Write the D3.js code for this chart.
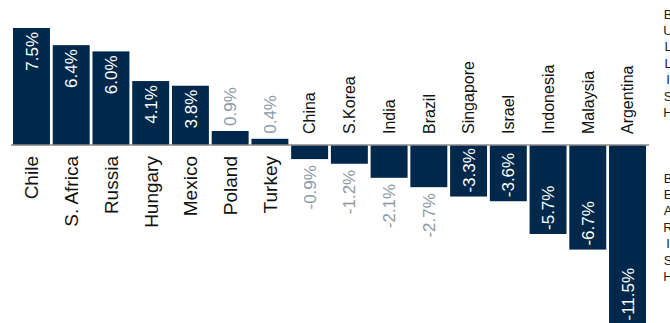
<!DOCTYPE html>
<html>
<head>
<meta charset="utf-8">
<script src="https://cdn.jsdelivr.net/npm/d3@7"></script>
<style>
  html, body { margin: 0; padding: 0; background: #fff; }
  svg { display: block; }
  text { font-family: "Liberation Sans", Arial, sans-serif; }
</style>
</head>
<body>
<svg id="chart" width="670" height="323"></svg>
<script>
const countries = ["Chile", "S. Africa", "Russia", "Hungary", "Mexico", "Poland", "Turkey", "China", "S.Korea", "India", "Brazil", "Singapore", "Israel", "Indonesia", "Malaysia", "Argentina"];
const values = [7.5, 6.4, 6.0, 4.1, 3.8, 0.9, 0.4, -0.9, -1.2, -2.1, -2.7, -3.3, -3.6, -5.7, -6.7, -11.5];
const sideLabels = ["BULLISH", "BEARISH"];

const data = countries.map((c, i) => ({ country: c, value: values[i] }));

const svg = d3.select("#chart");

const x = d3.scaleBand().domain(countries).range([13, 646]).paddingInner(0.07).paddingOuter(0);
const y = d3.scaleLinear().domain([-11.5, 7.5]).range([324.5, 28]);

const navy = "#00284b";
const grey = "#8c99a6";
const insideThreshold = 3;
const fmt = v => d3.format(".1f")(v).replace("\u2212", "-") + "%";

svg.append("g").selectAll("rect").data(data).join("rect")
  .attr("x", d => x(d.country))
  .attr("width", x.bandwidth())
  .attr("y", d => y(Math.max(0, d.value)))
  .attr("height", d => Math.abs(y(d.value) - y(0)))
  .attr("fill", navy);

const y0 = y(0);
svg.append("line")
  .attr("x1", 11).attr("x2", 649)
  .attr("y1", y0).attr("y2", y0)
  .attr("stroke", "#8a8a8a").attr("stroke-width", 1.5);

svg.append("g").selectAll("text").data(data).join("text")
  .attr("transform", d => {
    const cx = x(d.country) + x.bandwidth() / 2;
    const ty = d.value >= 0 ? y0 + 11 : y0 - 11;
    return `translate(${cx},${ty}) rotate(-90)`;
  })
  .attr("text-anchor", d => d.value >= 0 ? "end" : "start")
  .attr("dy", "0.36em")
  .attr("font-size", d => d.value >= 0 ? 19 : 16)
  .attr("fill", "#111")
  .text(d => d.country);

svg.append("g").selectAll("text").data(data).join("text")
  .attr("transform", d => {
    const cx = x(d.country) + x.bandwidth() / 2;
    const inside = Math.abs(d.value) >= insideThreshold;
    let ty;
    if (d.value >= 0) ty = inside ? y(d.value) + 4 : y(d.value) - 5;
    else ty = inside ? y(d.value) - 4 : y(d.value) + 6;
    return `translate(${cx},${ty}) rotate(-90)`;
  })
  .attr("text-anchor", d => {
    const inside = Math.abs(d.value) >= insideThreshold;
    if (d.value >= 0) return inside ? "end" : "start";
    return inside ? "start" : "end";
  })
  .attr("dy", "0.36em")
  .attr("font-size", 17)
  .attr("fill", d => Math.abs(d.value) >= insideThreshold ? "#ffffff" : grey)
  .text(d => fmt(d.value));

const sideTop = [14, 178];
sideLabels.forEach((word, wi) => {
  svg.append("g").selectAll("text").data(word.split("")).join("text")
    .attr("x", 668)
    .attr("y", (ch, i) => sideTop[wi] + i * 16.4)
    .attr("dy", "0.36em")
    .attr("text-anchor", "middle")
    .attr("font-size", 13)
    .attr("fill", "#222")
    .text(ch => ch);
});
</script>
</body>
</html>
